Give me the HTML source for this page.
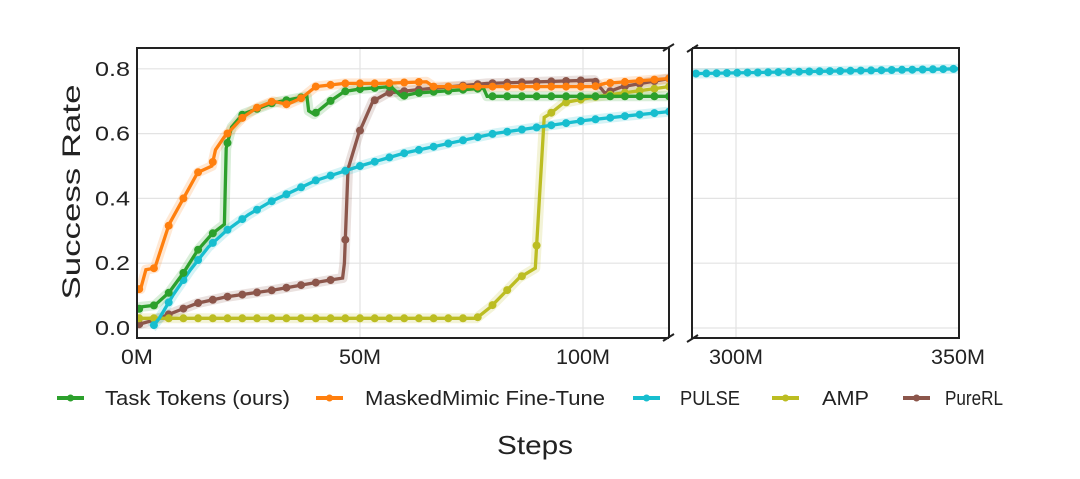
<!DOCTYPE html>
<html><head><meta charset="utf-8"><style>
html,body{margin:0;padding:0;background:#fff;}
svg{display:block;font-family:"Liberation Sans",sans-serif;}
</style></head><body>
<svg id="s" width="1080" height="479" viewBox="0 0 1080 479"></svg>
<script>
const S=document.getElementById('s');
let h='';
const L0=137,L1=669,R0=692,R1=959,T=48,B=338;
const X=m=>137+m*4.46, XR=m=>736+(m-300)*4.44, Y=v=>328-v*324;
for(const v of [0,0.2,0.4,0.6,0.8]){h+=`<line x1="${L0}" x2="${L1}" y1="${Y(v)}" y2="${Y(v)}" stroke="#e3e3e3" stroke-width="1.2"/><line x1="${R0}" x2="${R1}" y1="${Y(v)}" y2="${Y(v)}" stroke="#e3e3e3" stroke-width="1.2"/>`;
h+=`<text x="130" y="${Y(v)+7}" font-size="20" text-anchor="end" fill="#222" textLength="35" lengthAdjust="spacingAndGlyphs">${v.toFixed(1)}</text>`;}
for(const m of [50,100]) h+=`<line x1="${X(m)}" x2="${X(m)}" y1="${T}" y2="${B}" stroke="#e3e3e3" stroke-width="1.2"/>`;
h+=`<line x1="${XR(300)}" x2="${XR(300)}" y1="${T}" y2="${B}" stroke="#e3e3e3" stroke-width="1.2"/>`;
function interp(p,x){if(x<=p[0][0])return p[0][1];for(let i=1;i<p.length;i++){if(x<=p[i][0]){const a=p[i-1],b=p[i];return a[1]+(b[1]-a[1])*(x-a[0])/(b[0]-a[0]);}}return p[p.length-1][1];}
const series=[
{c:'#8c564b',p:[[0,0.01],[4,0.025],[10.4,0.06],[13.6,0.077],[20,0.096],[30.5,0.117],[43.3,0.148],[46.1,0.154],[46.5,0.2],[47.3,0.49],[49.7,0.6],[52.9,0.7],[56.1,0.725],[62.5,0.735],[78.5,0.755],[102.5,0.765],[104.9,0.725],[108.9,0.745],[119.3,0.77]]},
{c:'#bcbd22',p:[[0,0.03],[76.1,0.03],[79.3,0.065],[82.5,0.11],[85.7,0.155],[89.3,0.185],[91.3,0.65],[92.5,0.66],[95.7,0.695],[102.5,0.713],[119.3,0.745]]},
{c:'#17becf',p:[[3.3,0.0],[5,0.03],[8,0.1],[12,0.18],[16,0.25],[20,0.3],[25,0.35],[30,0.39],[40,0.455],[50,0.5],[60,0.54],[70,0.57],[80,0.6],[90,0.62],[100,0.64],[110,0.655],[119.3,0.668]]},
{c:'#2ca02c',p:[[0,0.05],[0.8,0.065],[4,0.07],[7.2,0.11],[10.4,0.17],[13.6,0.24],[16.8,0.29],[19.6,0.32],[20,0.555],[21.2,0.62],[23.7,0.66],[30.5,0.695],[36.1,0.71],[38.1,0.715],[38.5,0.67],[39.7,0.66],[43.3,0.70],[46.5,0.73],[49.7,0.737],[56.9,0.745],[59.3,0.715],[62.5,0.725],[77.7,0.74],[78.5,0.715],[119.3,0.715]]},
{c:'#ff7f0e',p:[[0,0.12],[0.8,0.12],[2,0.18],[4,0.185],[7.2,0.32],[10.4,0.40],[13.6,0.48],[16.8,0.50],[17.6,0.55],[19.6,0.59],[23.7,0.65],[26.9,0.68],[30.5,0.70],[33.7,0.69],[36.9,0.71],[40.1,0.745],[46.5,0.755],[54.5,0.755],[64.9,0.76],[66.5,0.745],[102.5,0.745],[104.9,0.755],[119.3,0.77]]}
];
h+=`<clipPath id="cl"><rect x="${L0}" y="${T}" width="${L1-L0}" height="${B-T}"/></clipPath><g clip-path="url(#cl)">`;
for(const s of series){const d='M'+s.p.map(q=>X(q[0]).toFixed(1)+','+Y(q[1]).toFixed(1)).join('L');
h+=`<path d="${d}" fill="none" stroke="${s.c}" stroke-width="10" stroke-opacity="0.18" stroke-linejoin="round"/>`;}
for(const s of series){const d='M'+s.p.map(q=>X(q[0]).toFixed(1)+','+Y(q[1]).toFixed(1)).join('L');
h+=`<path d="${d}" fill="none" stroke="${s.c}" stroke-width="3.3"/>`;
for(let m=s.p[0][0]+0.5;m<=119.5;m+=3.3)h+=`<circle cx="${X(m).toFixed(1)}" cy="${Y(interp(s.p,m)).toFixed(1)}" r="4" fill="${s.c}"/>`;}
h+='</g>';
h+=`<path d="M${R0},${Y(0.785)}L${R1},${Y(0.80)}" stroke="#17becf" stroke-width="10" stroke-opacity="0.18"/><path d="M${R0},${Y(0.785)}L${R1},${Y(0.80)}" stroke="#17becf" stroke-width="3.3"/>`;
for(let x=R0+4;x<=R1;x+=10.3){const v=0.785+0.015*(x-R0)/(R1-R0);h+=`<circle cx="${x.toFixed(1)}" cy="${Y(v).toFixed(1)}" r="4" fill="#17becf"/>`;}
h+=`<path d="M${L1},${T}H${L0}V${B}H${L1}" fill="none" stroke="#222" stroke-width="2"/><path d="M${L1},${T}V${B}" stroke="#222" stroke-width="2"/>`;
h+=`<path d="M${R0},${T}H${R1}V${B}H${R0}V${T}" fill="none" stroke="#222" stroke-width="2"/>`;
for(const y of [T,B]){h+=`<path d="M${L1-6},${y+3}Q${L1},${y-1} ${L1+5},${y-4}" fill="none" stroke="#222" stroke-width="2"/><path d="M${R0-5},${y+4}Q${R0},${y+1} ${R0+6},${y-3}" fill="none" stroke="#222" stroke-width="2"/>`;}
for(const [x,t,w] of [[X(0),'0M',32],[X(50),'50M',42],[X(100),'100M',54],[XR(300),'300M',54],[XR(350),'350M',54]])h+=`<text x="${x}" y="364" font-size="21" text-anchor="middle" fill="#222" textLength="${w}" lengthAdjust="spacingAndGlyphs">${t}</text>`;
h+=`<text x="535" y="454" font-size="26" text-anchor="middle" fill="#222" textLength="76" lengthAdjust="spacingAndGlyphs">Steps</text>`;
h+=`<text transform="translate(80,192) rotate(-90)" font-size="25" text-anchor="middle" fill="#222" textLength="215" lengthAdjust="spacingAndGlyphs">Success Rate</text>`;
const leg=[[57,105,'#2ca02c','Task Tokens (ours)',185],[316,365,'#ff7f0e','MaskedMimic Fine-Tune',240],[633,680,'#17becf','PULSE',60],[772,822,'#bcbd22','AMP',47],[903,945,'#8c564b','PureRL',58]];
for(const [a,b,c,t,w] of leg){h+=`<line x1="${a}" x2="${a+27}" y1="398" y2="398" stroke="${c}" stroke-width="4"/><circle cx="${a+13.5}" cy="398" r="3.5" fill="${c}"/><text x="${b}" y="405" font-size="20" fill="#222" textLength="${w}" lengthAdjust="spacingAndGlyphs">${t}</text>`;}
S.innerHTML=h;
</script>
</body></html>
